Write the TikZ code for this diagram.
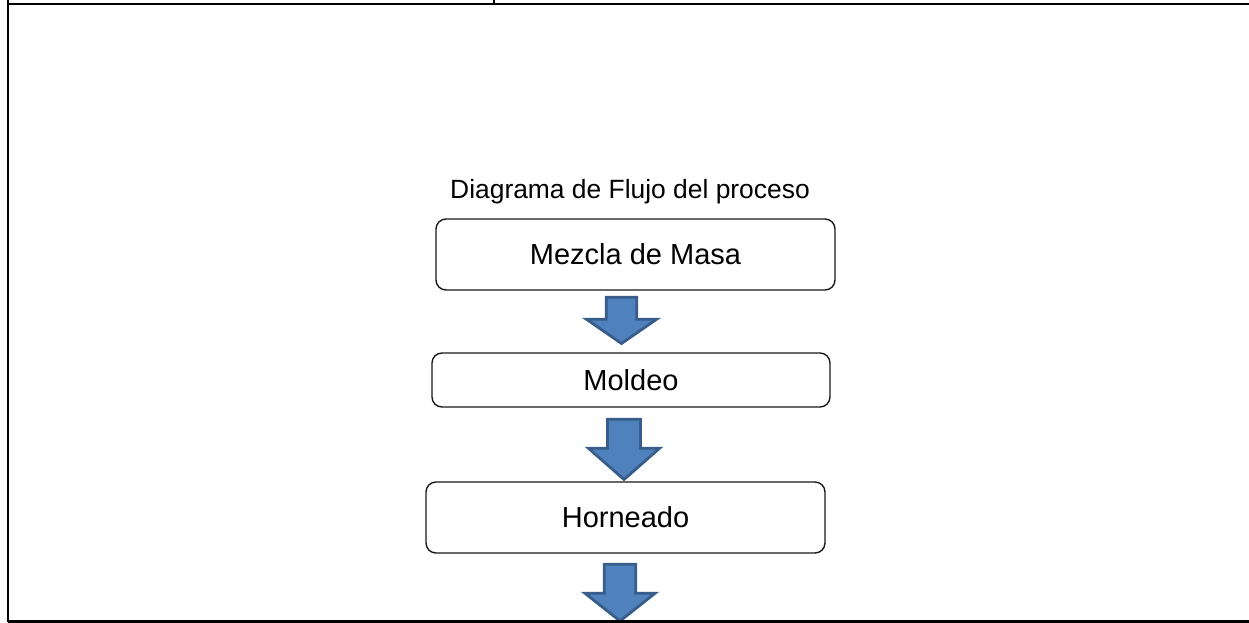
\documentclass[tikz,border=0pt]{standalone}
\usepackage{fontspec}
\setmainfont{Liberation Sans}
\definecolor{arrowfill}{HTML}{4F81BD}
\definecolor{arrowline}{HTML}{385D8A}
\newcommand\blockdown[7]{% name, cx, shaft half, head half, top, head y, tip
  \path[flowarrow] (#2-#3,#5) -- (#2+#3,#5) -- (#2+#3,#6) -- (#2+#4,#6) -- (#2,#7) coordinate (#1tip)
    -- (#2-#4,#6) -- (#2-#3,#6) -- cycle;}
\begin{document}
\begin{tikzpicture}[x=1pt,y=-1pt,
  box/.style={draw=black!90, line width=1.4pt, rounded corners=10pt, inner sep=0pt,
    font=\fontsize{29}{34}\selectfont},
  flowarrow/.style={fill=arrowfill, draw=arrowline, line width=2.8pt, line join=miter},
  frameline/.style={line width=2.5pt, black}]
\useasboundingbox (0,0) rectangle (1249,623);
% boxes
\node[box, minimum width=399pt, minimum height=71pt] (mezcla) at (635.5,254.5) {Mezcla de Masa};
\node[box, minimum width=398pt, minimum height=54pt] (moldeo) at (631,380) {Moldeo};
\node[box, minimum width=399pt, minimum height=71pt] (horneado) at (625.5,517.5) {Horneado};
% title
\node[anchor=base, inner sep=0pt, font=\fontsize{26.4}{31}\selectfont] (title) at (630,198) {Diagrama de Flujo del proceso};
% block arrows
\blockdown{a1}{621.5}{15.2}{35}{297.3}{319.3}{343.5}
\blockdown{a2}{624}{16.5}{35.5}{419.3}{448.3}{479.5}
\blockdown{a3}{620}{15.7}{35}{564.3}{593.3}{621}
% frame
\coordinate (tl) at (8,4);
\coordinate (tr) at (1249,4);
\coordinate (bl) at (8,621.5);
\coordinate (br) at (1249,621.5);
\coordinate (topl) at (8,0);
\coordinate (tick0) at (494,0);
\coordinate (tick1) at (494,4);
\draw[frameline] (topl) -- (bl);
\draw[frameline] (tl) -- (tr);
\draw[frameline] (bl) -- (br);
\draw[frameline] (tick0) -- (tick1);
\end{tikzpicture}
\end{document}
